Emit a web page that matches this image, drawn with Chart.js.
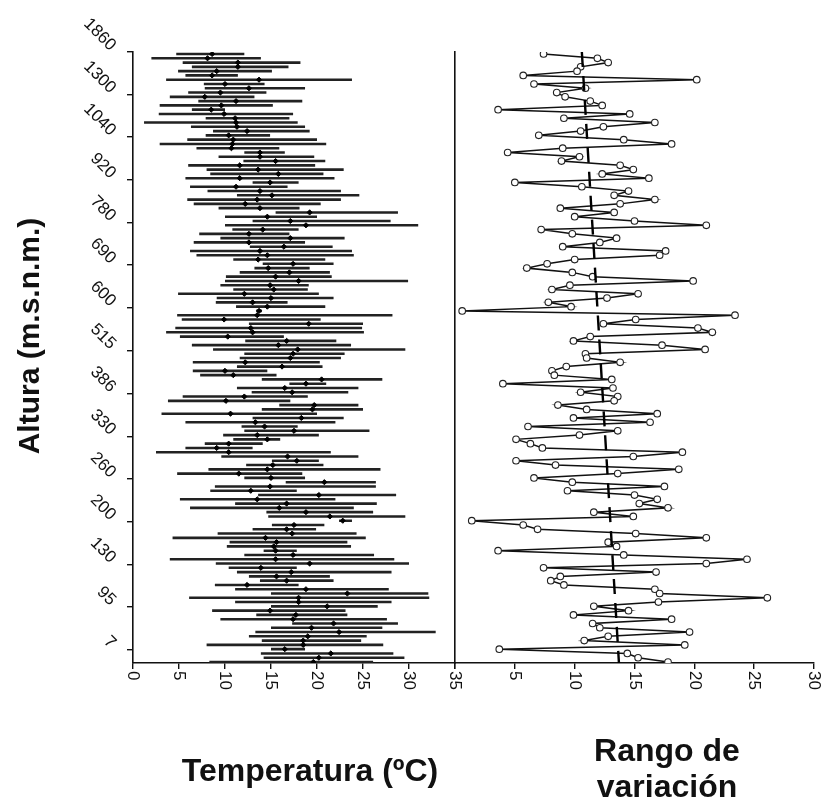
<!DOCTYPE html>
<html lang="es">
<head>
<meta charset="utf-8">
<title>Temperatura y rango de variación según la altura</title>
<script src="https://cdn.jsdelivr.net/npm/chart.js@4.4.1/dist/chart.umd.min.js"></script>
<style>
  html, body { margin: 0; padding: 0; background: #fff; }
  #wrap { position: relative; width: 821px; height: 805px; }
  #wrap canvas { position: absolute; left: 0; top: 0; }
</style>
</head>
<body>
<div id="wrap">
  <canvas id="temp-chart" width="821" height="805"></canvas>
  <canvas id="range-chart" width="821" height="805"></canvas>
</div>
<script>
// ===============================
// Temperatura / rango de variación por altura
// ===============================

// ---------- DATA (top row first) ----------
const altLabels = ["1860", "1300", "1040", "920", "780", "690", "600", "515",
                   "386", "330", "260", "200", "130", "95", "7"];
const altTickRows = [0.53, 10.5, 20.4, 30.4, 40.4, 50.3, 60.3, 70.3,
                     80.3, 90.3, 100.3, 110.2, 120.2, 130.1, 140.1];

const lows = [
  4.7, 2.0, 5.4, 6.4, 4.9, 5.7, 3.6, 7.7, 7.8, 6.0,
  4.0, 7.1, 2.9, 6.4, 2.8, 7.9, 1.2, 6.3, 8.7, 7.9,
  5.9, 2.9, 6.9, 12.1, 9.3, 12.0, 6.0, 8.0, 8.4, 5.7,
  13.0, 6.2, 8.1, 11.3, 5.9, 6.6, 9.3, 15.5, 10.0, 13.0,
  10.0, 10.8, 7.2, 9.5, 6.6, 12.7, 6.2, 6.9, 10.9, 14.1,
  13.2, 11.6, 10.1, 10.0, 9.5, 10.9, 4.9, 9.1, 9.0, 11.2,
  13.4, 4.8, 5.3, 12.6, 4.6, 3.6, 5.1, 12.2, 6.4, 8.7,
  12.1, 11.6, 6.5, 11.3, 6.5, 7.3, 14.0, 17.0, 11.3, 12.9,
  5.4, 3.8, 15.9, 14.0, 3.1, 13.0, 5.7, 11.8, 12.1, 9.8,
  10.9, 7.8, 5.7, 2.5, 9.6, 15.1, 12.3, 8.2, 4.8, 12.1,
  16.6, 8.9, 8.4, 13.6, 5.1, 11.1, 6.2, 14.5, 14.7, 22.4,
  15.1, 13.0, 9.2, 4.3, 10.5, 10.2, 14.2, 12.1, 4.0, 9.0,
  10.4, 11.3, 12.6, 13.8, 8.9, 11.1, 15.0, 6.1, 11.1, 15.0,
  8.6, 13.4, 9.5, 17.3, 15.0, 13.3, 12.6, 14.0, 8.0, 15.0,
  13.9, 14.2, 8.3
];
const highs = [
  12.1, 13.9, 18.2, 16.9, 15.1, 11.4, 23.8, 14.3, 18.7, 14.5,
  13.2, 18.4, 15.2, 10.0, 17.4, 17.0, 17.9, 18.7, 19.2, 14.9,
  20.0, 21.0, 15.9, 16.5, 19.7, 20.9, 19.8, 22.9, 20.7, 21.9,
  18.0, 16.8, 22.6, 24.6, 22.6, 20.4, 18.1, 28.8, 20.0, 28.0,
  31.0, 18.0, 17.0, 23.0, 18.7, 21.7, 23.8, 24.0, 20.9, 21.8,
  19.2, 21.4, 21.6, 29.9, 19.1, 19.0, 20.2, 21.8, 16.8, 20.9,
  14.0, 28.2, 20.4, 25.0, 24.9, 25.1, 16.4, 22.1, 23.7, 29.6,
  23.0, 22.6, 20.3, 20.6, 14.6, 15.6, 27.1, 21.0, 24.5, 23.4,
  19.0, 17.1, 24.5, 25.0, 20.0, 22.9, 22.0, 17.9, 25.7, 20.2,
  16.0, 14.1, 13.0, 21.5, 24.5, 20.2, 20.7, 26.9, 18.4, 18.7,
  26.4, 26.4, 17.8, 28.6, 22.0, 26.5, 24.0, 26.1, 29.6, 23.8,
  20.8, 19.9, 24.3, 25.3, 23.3, 23.7, 17.8, 26.2, 28.4, 30.0,
  17.8, 28.1, 21.4, 21.8, 18.0, 27.8, 32.1, 32.2, 28.1, 26.6,
  23.1, 23.3, 27.6, 28.8, 27.1, 32.9, 25.4, 24.8, 27.2, 18.7,
  28.3, 29.5, 26.1
];
const means = [
  8.6, 8.1, 11.4, 11.4, 9.1, 8.6, 13.7, 10.0, 12.6, 9.5,
  7.8, 11.2, 9.6, 8.5, 9.9, 11.1, 11.2, 11.3, 12.4, 10.4,
  10.9, 10.8, 10.7, 13.8, 13.8, 15.5, 11.6, 13.6, 15.8, 11.6,
  14.9, 11.2, 13.8, 15.1, 13.5, 12.2, 13.8, 19.2, 14.6, 17.1,
  18.8, 14.1, 12.6, 17.1, 12.6, 16.4, 13.8, 14.6, 13.6, 17.4,
  14.7, 17.0, 15.5, 18.0, 14.9, 15.3, 12.1, 15.0, 13.0, 14.6,
  13.7, 13.5, 9.9, 19.1, 12.8, 13.0, 10.3, 16.7, 15.8, 17.9,
  17.4, 17.1, 12.2, 16.2, 10.0, 10.9, 20.5, 18.8, 16.5, 17.3,
  12.1, 10.1, 19.7, 19.5, 10.6, 18.3, 13.3, 14.3, 17.5, 13.5,
  14.6, 10.4, 9.1, 10.4, 16.8, 17.8, 15.2, 14.6, 11.5, 15.0,
  20.8, 14.9, 12.8, 20.2, 13.5, 16.7, 15.9, 18.8, 21.4, 22.8,
  17.5, 16.7, 17.3, 14.4, 15.6, 15.3, 15.5, 17.4, 15.5, 19.2,
  13.9, 17.2, 15.6, 16.7, 12.4, 18.8, 23.3, 18.0, 18.0, 21.1,
  14.9, 17.7, 17.4, 21.8, 19.4, 22.4, 19.0, 18.5, 18.5, 16.5,
  21.5, 20.2, 19.6
];
const ranges = [
  7.4, 11.9, 12.8, 10.5, 10.2, 5.7, 20.2, 6.6, 10.9, 8.5,
  9.2, 11.3, 12.3, 3.6, 14.6, 9.1, 16.7, 12.4, 10.5, 7.0,
  14.1, 18.1, 9.0, 4.4, 10.4, 8.9, 13.8, 14.9, 12.3, 16.2,
  5.0, 10.6, 14.5, 13.3, 16.7, 13.8, 8.8, 13.3, 10.0, 15.0,
  21.0, 7.2, 9.8, 13.5, 12.1, 9.0, 17.6, 17.1, 10.0, 7.7,
  6.0, 9.8, 11.5, 19.9, 9.6, 8.1, 15.3, 12.7, 7.8, 9.7,
  0.6, 23.4, 15.1, 12.4, 20.3, 21.5, 11.3, 9.9, 17.3, 20.9,
  10.9, 11.0, 13.8, 9.3, 8.1, 8.3, 13.1, 4.0, 13.2, 10.5,
  13.6, 13.3, 8.6, 11.0, 16.9, 9.9, 16.3, 6.1, 13.6, 10.4,
  5.1, 6.3, 7.3, 19.0, 14.9, 5.1, 8.4, 18.7, 13.6, 6.6,
  9.8, 17.5, 9.4, 15.0, 16.9, 15.4, 17.8, 11.6, 14.9, 1.4,
  5.7, 6.9, 15.1, 21.0, 12.8, 13.5, 3.6, 14.1, 24.4, 21.0,
  7.4, 16.8, 8.8, 8.0, 9.1, 16.7, 17.1, 26.1, 17.0, 11.6,
  14.5, 9.9, 18.1, 11.5, 12.1, 19.6, 12.8, 10.8, 19.2, 3.7,
  14.4, 15.3, 17.8
];
const trendRows = [0.53, 143.2];
const trendVals = [10.6, 13.7];

const tempTicks = [0, 5, 10, 15, 20, 25, 30, 35];
const rangeTicks = [0, 5, 10, 15, 20, 25, 30];

// ---------- HELPERS ----------
const rows = lows.map((_, i) => i + 1);
const ROW_MIN = 0.53;
const ROW_MAX = 143.23;
const INK = "#111";
const FONT = '"Liberation Sans", Arial, sans-serif';

const tickGrid = { drawOnChartArea: false, drawTicks: true, tickLength: 6, color: INK, lineWidth: 1.4 };
const axisBorder = { display: true, color: INK, width: 1.6 };

// floating horizontal segments: low -> high, broken by a null point
const segments = [];
rows.forEach((r, i) => {
    segments.push({ x: lows[i], y: r }, { x: highs[i], y: r }, { x: null, y: null });
});

// ---------- LABEL PLUGINS ----------
const tempLabels = {
    id: "tempLabels",
    afterDraw(chart) {
        const { ctx } = chart;
        const { x, y } = chart.scales;
        ctx.save();
        ctx.fillStyle = INK;
        ctx.font = "17px " + FONT;

        // altitude ticks, slanted 45 degrees
        ctx.textAlign = "right";
        ctx.textBaseline = "middle";
        altTickRows.forEach((r, i) => {
            ctx.save();
            ctx.translate(x.left - 20, y.getPixelForValue(r) - 4);
            ctx.rotate(Math.PI / 4);
            ctx.fillText(altLabels[i], 0, 0);
            ctx.restore();
        });

        // temperature ticks, turned 90 degrees
        ctx.textAlign = "left";
        tempTicks.forEach(v => {
            ctx.save();
            ctx.translate(x.getPixelForValue(v), y.bottom + 8);
            ctx.rotate(Math.PI / 2);
            ctx.fillText(String(v), 0, 0);
            ctx.restore();
        });

        // axis titles
        ctx.font = "bold 30px " + FONT;
        ctx.textAlign = "center";
        ctx.textBaseline = "middle";
        ctx.save();
        ctx.translate(31, 336);
        ctx.rotate(-Math.PI / 2);
        ctx.fillText("Altura (m.s.n.m.)", 0, 0);
        ctx.restore();

        ctx.font = "bold 32px " + FONT;
        ctx.textBaseline = "alphabetic";
        ctx.fillText("Temperatura (ºC)", 310, 781);
        ctx.restore();
    }
};

const rangeLabels = {
    id: "rangeLabels",
    afterDraw(chart) {
        const { ctx } = chart;
        const { x, y } = chart.scales;
        ctx.save();
        ctx.fillStyle = INK;
        ctx.font = "17px " + FONT;
        ctx.textAlign = "left";
        ctx.textBaseline = "middle";
        rangeTicks.filter(v => v > 0).forEach(v => {
            ctx.save();
            ctx.translate(x.getPixelForValue(v), y.bottom + 8);
            ctx.rotate(Math.PI / 2);
            ctx.fillText(String(v), 0, 0);
            ctx.restore();
        });

        ctx.font = "bold 32px " + FONT;
        ctx.textAlign = "center";
        ctx.textBaseline = "alphabetic";
        ctx.fillText("Rango de", 667, 761);
        ctx.fillText("variación", 667, 797);
        ctx.restore();
    }
};

// ---------- LEFT PANEL: TEMPERATURA ----------
new Chart(document.getElementById("temp-chart"), {
    type: "scatter",
    data: {
        datasets: [
            {
                label: "Media",
                data: rows.map((r, i) => ({ x: means[i], y: r })),
                pointStyle: "rectRot",
                pointRadius: 2.6,
                backgroundColor: "#000",
                borderColor: "#000",
                borderWidth: 1,
                order: 0
            },
            {
                label: "Mínima - máxima",
                data: segments,
                showLine: true,
                spanGaps: false,
                borderColor: "#222",
                borderWidth: 2.6,
                borderCapStyle: "butt",
                pointRadius: 0,
                order: 1
            }
        ]
    },
    options: {
        responsive: false,
        animation: false,
        devicePixelRatio: 1,
        layout: { autoPadding: false, padding: { left: 0, top: 52, right: 366, bottom: 0 } },
        plugins: { legend: { display: false }, tooltip: { enabled: false } },
        events: [],
        scales: {
            x: {
                type: "linear", min: 0, max: 35,
                afterBuildTicks: s => { s.ticks = tempTicks.map(v => ({ value: v })); },
                afterFit: s => { s.height = 142; },
                ticks: { display: false },
                grid: tickGrid,
                border: axisBorder
            },
            y: {
                type: "linear", reverse: true, min: ROW_MIN, max: ROW_MAX,
                afterBuildTicks: s => { s.ticks = altTickRows.map(v => ({ value: v })); },
                afterFit: s => { s.width = 133; },
                ticks: { display: false },
                grid: tickGrid,
                border: axisBorder
            }
        }
    },
    plugins: [tempLabels]
});

// ---------- RIGHT PANEL: RANGO DE VARIACION ----------
new Chart(document.getElementById("range-chart"), {
    type: "scatter",
    data: {
        datasets: [
            {
                label: "Tendencia",
                data: trendRows.map((r, i) => ({ x: trendVals[i], y: r })),
                showLine: true,
                borderColor: "#000",
                borderWidth: 2.4,
                borderDash: [15, 9],
                pointRadius: 0,
                order: 0
            },
            {
                label: "Rango de variación",
                data: rows.map((r, i) => ({ x: ranges[i], y: r })),
                showLine: true,
                borderColor: "#111",
                borderWidth: 1.5,
                pointRadius: 3.3,
                pointBackgroundColor: "#fff",
                pointBorderColor: "#222",
                pointBorderWidth: 1.1,
                order: 1
            }
        ]
    },
    options: {
        responsive: false,
        animation: false,
        devicePixelRatio: 1,
        layout: { autoPadding: false, padding: { left: 455, top: 52, right: 7, bottom: 0 } },
        plugins: { legend: { display: false }, tooltip: { enabled: false } },
        events: [],
        scales: {
            x: {
                type: "linear", min: 0, max: 30,
                afterBuildTicks: s => { s.ticks = rangeTicks.map(v => ({ value: v })); },
                afterFit: s => { s.height = 142; },
                ticks: { display: false },
                grid: tickGrid,
                border: axisBorder
            },
            y: {
                type: "linear", reverse: true, min: ROW_MIN, max: ROW_MAX,
                afterFit: s => { s.width = 0; },
                ticks: { display: false },
                grid: { drawOnChartArea: false, drawTicks: false },
                border: axisBorder
            }
        }
    },
    plugins: [rangeLabels]
});
</script>
</body>
</html>
